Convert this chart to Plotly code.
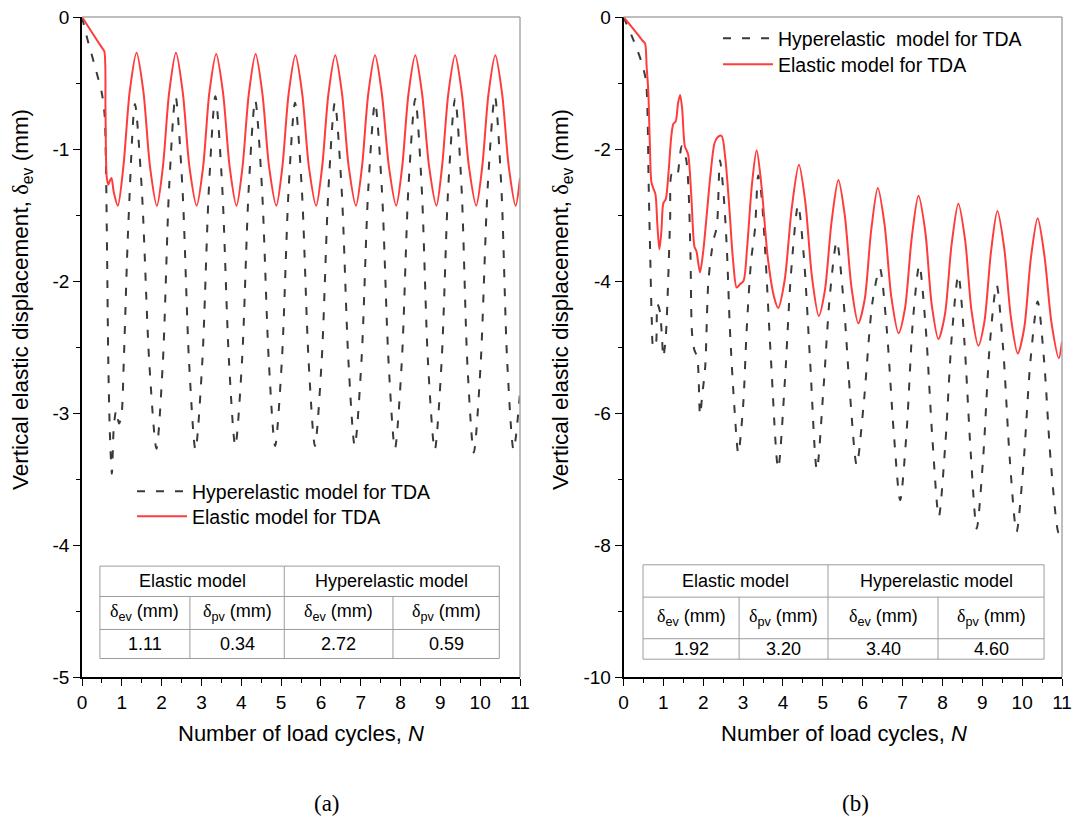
import plotly.graph_objects as go

# ---------------- data: load cycles N vs vertical elastic displacement (mm) ----------------
# Panel (a)
a_elastic_x = [0, 0.30, 0.50, 0.56, 0.59, 0.62, 0.66, 0.70, 0.74, 0.80, 0.90,
               1.04, 1.20, 1.37, 1.54, 1.71, 1.88,
               2.03, 2.19, 2.36, 2.53, 2.70, 2.88,
               3.04, 3.20, 3.37, 3.54, 3.71, 3.88,
               4.03, 4.19, 4.36, 4.53, 4.70, 4.88,
               5.03, 5.19, 5.36, 5.53, 5.70, 5.88,
               6.03, 6.19, 6.36, 6.53, 6.70, 6.88,
               7.03, 7.19, 7.36, 7.53, 7.71, 7.89,
               8.04, 8.20, 8.37, 8.54, 8.72, 8.90,
               9.04, 9.20, 9.37, 9.54, 9.72, 9.90,
               10.05, 10.21, 10.38, 10.55, 10.72, 10.89, 11.0]
a_elastic_y = [0, -0.14, -0.232, -0.26, -0.70, -1.21, -1.27, -1.24, -1.22, -1.33, -1.43,
               -1.13, -0.56, -0.27, -0.56, -1.14, -1.43,
               -1.14, -0.57, -0.27, -0.57, -1.14, -1.43,
               -1.14, -0.57, -0.28, -0.57, -1.14, -1.43,
               -1.14, -0.58, -0.28, -0.58, -1.14, -1.43,
               -1.14, -0.58, -0.29, -0.58, -1.14, -1.43,
               -1.14, -0.58, -0.29, -0.58, -1.14, -1.43,
               -1.14, -0.58, -0.29, -0.58, -1.14, -1.43,
               -1.14, -0.58, -0.29, -0.58, -1.14, -1.43,
               -1.14, -0.58, -0.29, -0.58, -1.14, -1.43,
               -1.14, -0.58, -0.29, -0.58, -1.14, -1.43, -1.22]

a_hyper_x = [0, 0.12, 0.33, 0.50, 0.57, 0.60, 0.63, 0.66, 0.70, 0.75, 0.80, 0.86, 0.93, 0.99,
             1.05, 1.16, 1.33, 1.50, 1.69, 1.87,
             2.03, 2.19, 2.35, 2.52, 2.69, 2.85,
             3.02, 3.19, 3.35, 3.52, 3.69, 3.85,
             4.02, 4.19, 4.35, 4.52, 4.69, 4.85,
             5.02, 5.19, 5.35, 5.52, 5.69, 5.85,
             6.02, 6.19, 6.35, 6.52, 6.69, 6.85,
             7.02, 7.19, 7.36, 7.53, 7.70, 7.86,
             8.03, 8.20, 8.37, 8.53, 8.69, 8.86,
             9.03, 9.20, 9.37, 9.53, 9.68, 9.84,
             10.01, 10.19, 10.37, 10.53, 10.68, 10.84, 11.0]
a_hyper_y = [0, -0.15, -0.38, -0.58, -0.75, -1.10, -1.80, -2.60, -3.15, -3.46, -3.10, -2.98, -3.08, -3.02,
             -2.60, -1.60, -0.66, -1.30, -2.62, -3.27,
             -2.62, -1.28, -0.60, -1.28, -2.62, -3.28,
             -2.62, -1.28, -0.60, -1.28, -2.60, -3.25,
             -2.60, -1.28, -0.63, -1.30, -2.60, -3.25,
             -2.60, -1.30, -0.65, -1.30, -2.60, -3.25,
             -2.60, -1.30, -0.65, -1.30, -2.60, -3.25,
             -2.60, -1.30, -0.65, -1.30, -2.62, -3.27,
             -2.62, -1.28, -0.62, -1.28, -2.62, -3.28,
             -2.62, -1.28, -0.62, -1.28, -2.64, -3.30,
             -2.64, -1.28, -0.60, -1.28, -2.62, -3.28, -2.85]

# Panel (b)
b_elastic_x = [0, 0.30, 0.48, 0.54, 0.58, 0.62, 0.66, 0.70, 0.75, 0.80, 0.85, 0.90, 0.95, 1.00, 1.06,
               1.13, 1.20, 1.25, 1.31, 1.37, 1.42, 1.47, 1.54, 1.62, 1.70, 1.78, 1.83, 1.92,
               2.00, 2.08, 2.18, 2.28, 2.35, 2.46, 2.55, 2.65, 2.75, 2.84, 2.92, 3.01,
               3.10, 3.22, 3.34, 3.46, 3.62, 3.78, 3.88,
               4.04, 4.22, 4.40, 4.56, 4.73, 4.90,
               5.05, 5.22, 5.39, 5.55, 5.72, 5.89,
               6.05, 6.21, 6.38, 6.55, 6.72, 6.90,
               7.06, 7.23, 7.40, 7.57, 7.73, 7.90,
               8.06, 8.23, 8.40, 8.57, 8.73, 8.90,
               9.05, 9.22, 9.38, 9.55, 9.72, 9.89,
               10.05, 10.22, 10.39, 10.56, 10.74, 10.92, 11.0]
b_elastic_y = [0, -0.22, -0.36, -0.40, -0.75, -1.10, -1.90, -2.50, -2.60, -2.68, -3.15, -3.52, -3.25, -2.82, -2.76,
               -2.35, -1.80, -1.62, -1.58, -1.30, -1.18, -1.38, -1.96, -2.08, -2.70, -3.48, -3.55, -3.87,
               -3.55, -3.05, -2.40, -1.92, -1.83, -1.80, -2.12, -2.85, -3.70, -4.10, -4.05, -4.00,
               -3.50, -2.55, -2.02, -2.55, -3.65, -4.25, -4.41,
               -4.00, -2.90, -2.24, -2.80, -3.95, -4.53,
               -4.15, -3.10, -2.47, -3.00, -4.10, -4.64,
               -4.28, -3.25, -2.59, -3.15, -4.25, -4.79,
               -4.42, -3.35, -2.71, -3.25, -4.35, -4.88,
               -4.52, -3.45, -2.83, -3.38, -4.45, -4.98,
               -4.63, -3.55, -2.94, -3.50, -4.56, -5.10,
               -4.72, -3.65, -3.05, -3.62, -4.65, -5.17, -4.92]

b_hyper_x = [0, 0.25, 0.45, 0.56, 0.60, 0.63, 0.67, 0.71, 0.75, 0.80, 0.85, 0.91, 0.96, 1.00,
             1.06, 1.12, 1.17, 1.21, 1.28, 1.34, 1.46, 1.57, 1.63, 1.68, 1.72, 1.78, 1.85, 1.92,
             1.98, 2.05, 2.13, 2.25, 2.34, 2.42, 2.50, 2.59, 2.67, 2.78, 2.88,
             3.00, 3.09, 3.20, 3.30, 3.38, 3.46, 3.55, 3.70, 3.88,
             4.05, 4.20, 4.38, 4.52, 4.68, 4.85,
             5.02, 5.18, 5.35, 5.52, 5.68, 5.85,
             6.02, 6.25, 6.43, 6.60, 6.78, 6.94,
             7.10, 7.26, 7.42, 7.58, 7.75, 7.91,
             8.07, 8.24, 8.40, 8.55, 8.71, 8.86,
             9.02, 9.19, 9.36, 9.52, 9.69, 9.86,
             10.03, 10.21, 10.39, 10.55, 10.72, 10.92, 11.0]
b_hyper_y = [0, -0.35, -0.68, -0.95, -1.40, -2.50, -3.60, -4.60, -5.00, -5.00, -4.35, -4.45, -4.80, -5.15,
             -4.85, -4.00, -3.05, -2.38, -2.38, -2.42, -1.96, -2.15, -2.60, -3.60, -4.80, -5.05, -5.15, -6.03,
             -5.70, -5.30, -4.00, -3.40, -3.18, -2.17, -2.60, -3.48, -4.74, -5.90, -6.61,
             -5.90, -4.74, -3.70, -3.20, -2.40, -2.70, -3.50, -5.20, -6.84,
             -5.50, -3.90, -2.85, -3.60, -5.20, -6.86,
             -5.60, -4.20, -3.40, -4.30, -5.70, -6.79,
             -5.90, -4.30, -3.81, -4.70, -6.30, -7.32,
             -6.30, -4.60, -3.76, -4.70, -6.40, -7.57,
             -6.50, -4.80, -3.91, -4.90, -6.60, -7.75,
             -6.70, -4.95, -4.06, -5.00, -6.70, -7.80,
             -6.80, -5.20, -4.31, -5.20, -6.75, -7.82, -7.72]

# inset summary tables
table_groups = ["Elastic model", "Hyperelastic model"]
table_heads = ["δ<sub>ev</sub> (mm)", "δ<sub>pv</sub> (mm)", "δ<sub>ev</sub> (mm)", "δ<sub>pv</sub> (mm)"]
a_table_values = ["1.11", "0.34", "2.72", "0.59"]
b_table_values = ["1.92", "3.20", "3.40", "4.60"]

x_ticks = list(range(0, 12))
a_y_ticks = [0, -1, -2, -3, -4, -5]
b_y_ticks = [0, -2, -4, -6, -8, -10]

hyper_name_a = "Hyperelastic model for TDA"
hyper_name_b = "Hyperelastic\u00a0 model for TDA"
elastic_name = "Elastic model for TDA"

# ---------------- styling ----------------
W, H = 1075, 823
SANS = "Liberation Sans, Arial, sans-serif"
SERIF = "Liberation Serif, Times New Roman, serif"
RED = "#ff3c3c"
DASH_GREY = "#3a3a3a"
FRAME_GREY = "#a8a8a8"
TABLE_GREY = "#9c9c9c"

def px_x(p):
    return p / W

def px_y(p):
    return 1 - p / H

fig = go.Figure()

hyper_line = dict(color=DASH_GREY, width=2, dash="8px,11px", shape="spline", smoothing=0.8)
elastic_line = dict(color=RED, width=2, shape="spline", smoothing=0.8)

# each legend entry sits in its own legend box so the rows can be placed freely
fig.add_trace(go.Scatter(x=a_hyper_x, y=a_hyper_y, mode="lines", name=hyper_name_a,
                         line=hyper_line, xaxis="x", yaxis="y", legend="legend"))
fig.add_trace(go.Scatter(x=a_elastic_x, y=a_elastic_y, mode="lines", name=elastic_name,
                         line=elastic_line, xaxis="x", yaxis="y", legend="legend2"))
fig.add_trace(go.Scatter(x=b_hyper_x, y=b_hyper_y, mode="lines", name=hyper_name_b,
                         line=hyper_line, xaxis="x2", yaxis="y2", legend="legend3"))
fig.add_trace(go.Scatter(x=b_elastic_x, y=b_elastic_y, mode="lines", name=elastic_name,
                         line=elastic_line, xaxis="x2", yaxis="y2", legend="legend4"))

x_common = dict(range=[0, 11], tickmode="array", tickvals=x_ticks, automargin=False,
                ticktext=[str(t) for t in x_ticks], ticks="outside", ticklen=7, tickwidth=1.3,
                tickcolor="black", showline=True, linecolor="black", linewidth=1.5,
                showgrid=False, zeroline=False, tickfont=dict(family=SANS, size=19, color="black"),
                minor=dict(dtick=0.5, ticks="outside", ticklen=4, tickwidth=1.2, tickcolor="black"),
                fixedrange=True)

def y_axis(rng, ticks, minor_step):
    return dict(range=rng, tickmode="array", tickvals=ticks, automargin=False,
                ticktext=[str(t) for t in ticks], ticks="outside", ticklen=7, tickwidth=1.3,
                tickcolor="black", showline=True, linecolor="black", linewidth=1.5,
                showgrid=False, zeroline=False, tickfont=dict(family=SANS, size=19, color="black"),
                minor=dict(dtick=minor_step, ticks="outside", ticklen=4, tickwidth=1.2, tickcolor="black"),
                fixedrange=True)


def legend_box(left_px, top_px):
    return dict(x=px_x(left_px), y=px_y(top_px), xanchor="left", yanchor="top",
                bgcolor="rgba(0,0,0,0)", itemwidth=50,
                font=dict(family=SANS, size=19.5, color="black"))


ya = 1 - 17 / H
yb = 1 - 677 / H

fig.update_layout(
    template="none",
    width=W, height=H,
    margin=dict(l=0, r=0, t=0, b=0, autoexpand=False),
    paper_bgcolor="white", plot_bgcolor="white",
    font=dict(family=SANS, color="black"),
    xaxis=dict(domain=[px_x(82), px_x(520)], anchor="y", **x_common),
    yaxis=dict(domain=[yb, ya], anchor="x", **y_axis([-5, 0], a_y_ticks, 0.5)),
    xaxis2=dict(domain=[px_x(623.5), px_x(1062)], anchor="y2", **x_common),
    yaxis2=dict(domain=[yb, ya], anchor="x2", **y_axis([-10, 0], b_y_ticks, 1)),
    legend=legend_box(132, 472),
    legend2=legend_box(132, 497),
    legend3=legend_box(718, 19),
    legend4=legend_box(718, 45),
    showlegend=True,
)

# grey top and right frame lines of each panel
for xr, yr in (("x", "y"), ("x2", "y2")):
    fig.add_shape(type="line", xref=f"{xr} domain", yref=f"{yr} domain",
                  x0=0, x1=1, y0=1, y1=1, line=dict(color=FRAME_GREY, width=1.5))
    fig.add_shape(type="line", xref=f"{xr} domain", yref=f"{yr} domain",
                  x0=1, x1=1, y0=0, y1=1, line=dict(color=FRAME_GREY, width=1.5))


def text_at(xr, yr, x, y, text, font, **kw):
    fig.add_annotation(xref=xr, yref=yr, x=x, y=y, text=text, showarrow=False,
                       xanchor="center", yanchor="middle", font=font, **kw)


def draw_table(xr, yr, cols, rows, values):
    """Draw the inset table on a panel; cols/rows are cell boundaries in axis units."""
    line = dict(color=TABLE_GREY, width=1)
    x0, x1 = cols[0], cols[-1]
    for r in rows:
        fig.add_shape(type="line", xref=xr, yref=yr, x0=x0, x1=x1, y0=r, y1=r, line=line)
    # full-height outer lines and the group divider
    for c in (cols[0], cols[2], cols[4]):
        fig.add_shape(type="line", xref=xr, yref=yr, x0=c, x1=c, y0=rows[0], y1=rows[-1], line=line)
    # sub-column dividers below the group row
    for c in (cols[1], cols[3]):
        fig.add_shape(type="line", xref=xr, yref=yr, x0=c, x1=c, y0=rows[1], y1=rows[-1], line=line)
    tf = dict(family=SANS, size=18, color="black")
    for g, name in enumerate(table_groups):
        text_at(xr, yr, (cols[2 * g] + cols[2 * g + 2]) / 2, (rows[0] + rows[1]) / 2, name, tf)
    for i in range(4):
        xc = (cols[i] + cols[i + 1]) / 2
        head = table_heads[i].replace("δ", "<span style='font-family:Liberation Serif'>δ</span>")
        text_at(xr, yr, xc, (rows[1] + rows[2]) / 2, head, tf)
        text_at(xr, yr, xc, (rows[2] + rows[3]) / 2, values[i], tf)


draw_table("x", "y", [0.45, 2.71, 5.08, 7.81, 10.48], [-4.16, -4.39, -4.64, -4.86], a_table_values)
draw_table("x2", "y2", [0.49, 2.90, 5.13, 7.89, 10.55], [-8.30, -8.79, -9.42, -9.73], b_table_values)

# axis titles and panel captions
ytitle = "Vertical elastic displacement, <span style='font-family:Liberation Serif'>δ</span><sub>ev</sub> (mm)"
xtitle = "Number of load cycles, <i>N</i>"
for xc, yc in ((22, 300), (562, 300)):
    text_at("paper", "paper", px_x(xc), px_y(yc), ytitle,
            dict(family=SANS, size=22.5, color="black"), textangle=-90)
for xc in (301, 844):
    text_at("paper", "paper", px_x(xc), px_y(733), xtitle, dict(family=SANS, size=22, color="black"))
for xc, lab in ((327, "(a)"), (855, "(b)")):
    text_at("paper", "paper", px_x(xc), px_y(803), lab, dict(family=SERIF, size=23, color="black"))

fig.write_html("out.html", config={"displayModeBar": False})
